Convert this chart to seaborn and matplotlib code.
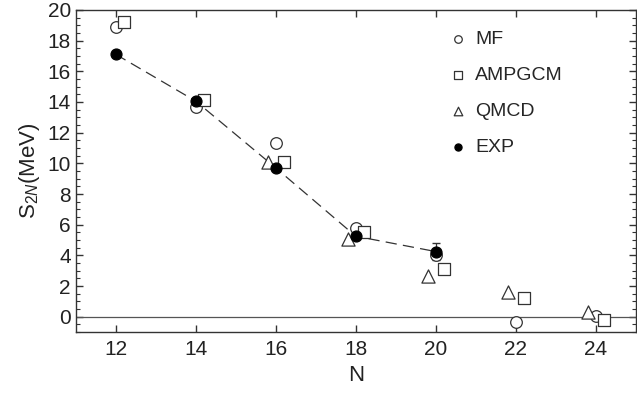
import matplotlib.pyplot as plt
import pandas as pd
import seaborn as sns

sns.set_theme(style="ticks")
plt.rcParams['font.family'] = ['Liberation Sans', 'DejaVu Sans']
plt.rcParams['mathtext.fontset'] = 'custom'
plt.rcParams['mathtext.rm'] = 'Liberation Sans'
plt.rcParams['mathtext.it'] = 'Liberation Sans:italic'

# values
mf_n = [12, 14, 16, 18, 20, 22, 24]
mf_s = [18.9, 13.7, 11.3, 5.8, 4.05, -0.35, 0.05]

amp_n = [12.2, 14.2, 16.2, 18.2, 20.2, 22.2, 24.2]
amp_s = [19.2, 14.15, 10.1, 5.5, 3.1, 1.25, -0.2]

qmcd_n = [15.8, 17.8, 19.8, 21.8, 23.8]
qmcd_s = [10.1, 5.05, 2.65, 1.6, 0.3]

exp_n = [12, 14, 16, 18, 20]
exp_s = [17.1, 14.05, 9.7, 5.25, 4.25]
exp_err = [0, 0, 0, 0, 0.55]

df_mf = pd.DataFrame({'N': mf_n, 'S2N': mf_s})
df_amp = pd.DataFrame({'N': amp_n, 'S2N': amp_s})
df_qmcd = pd.DataFrame({'N': qmcd_n, 'S2N': qmcd_s})
df_exp = pd.DataFrame({'N': exp_n, 'S2N': exp_s, 'err': exp_err})

fig = plt.figure(figsize=(6.37, 3.94), dpi=100)
ax = fig.add_axes([0.119, 0.157, 0.879, 0.818])

ax.axhline(0, color='#555555', lw=0.9, zorder=1)

edge = '#333333'
sns.lineplot(x='N', y='S2N', data=df_exp, ax=ax, color='#333333', lw=0.9,
             dashes=False, linestyle=(0, (9, 5)), zorder=2, legend=False)
ax.errorbar(df_exp['N'], df_exp['S2N'], yerr=df_exp['err'], fmt='none',
            ecolor='#333333', elinewidth=0.9, capsize=3, zorder=2)

sns.scatterplot(x='N', y='S2N', data=df_mf, ax=ax, marker='o', s=70,
                facecolor='white', edgecolor=edge, linewidth=0.9, zorder=3, label='MF')
sns.scatterplot(x='N', y='S2N', data=df_amp, ax=ax, marker='s', s=70,
                facecolor='white', edgecolor=edge, linewidth=0.9, zorder=3, label='AMPGCM')
sns.scatterplot(x='N', y='S2N', data=df_qmcd, ax=ax, marker='^', s=90,
                facecolor='white', edgecolor=edge, linewidth=0.9, zorder=3, label='QMCD')
sns.scatterplot(x='N', y='S2N', data=df_exp, ax=ax, marker='o', s=62,
                facecolor='black', edgecolor='black', linewidth=0.9, zorder=4, label='EXP')

ax.set_xlim(11, 25)
ax.set_ylim(-1, 20)
ax.set_xticks([12, 14, 16, 18, 20, 22, 24])
ax.set_yticks(range(0, 21, 2))
ax.set_yticks([v * 0.5 for v in range(-2, 41)], minor=True)
ax.tick_params(axis='both', which='major', direction='in', length=5, width=1,
               labelsize=15, top=True, right=True, color='#333333', labelcolor='#222222')
ax.tick_params(axis='x', which='major', pad=6)
ax.tick_params(axis='y', which='minor', direction='in', length=3, width=0.8,
               left=True, right=True, color='#333333')
ax.tick_params(axis='x', which='minor', bottom=False, top=False)
for sp in ax.spines.values():
    sp.set_color('#333333')
    sp.set_linewidth(1)

ax.set_xlabel('N', fontsize=16, color='#222222', labelpad=4)
ax.set_ylabel(r'$\mathrm{S}_{2N}$(MeV)', fontsize=16, color='#222222', labelpad=4)

ax.legend(loc='upper left', bbox_to_anchor=(0.63, 0.99), frameon=False, fontsize=14,
          markerscale=0.65, labelspacing=0.95, handletextpad=0.3, handlelength=1.2)

plt.savefig('out.png', dpi=100)
